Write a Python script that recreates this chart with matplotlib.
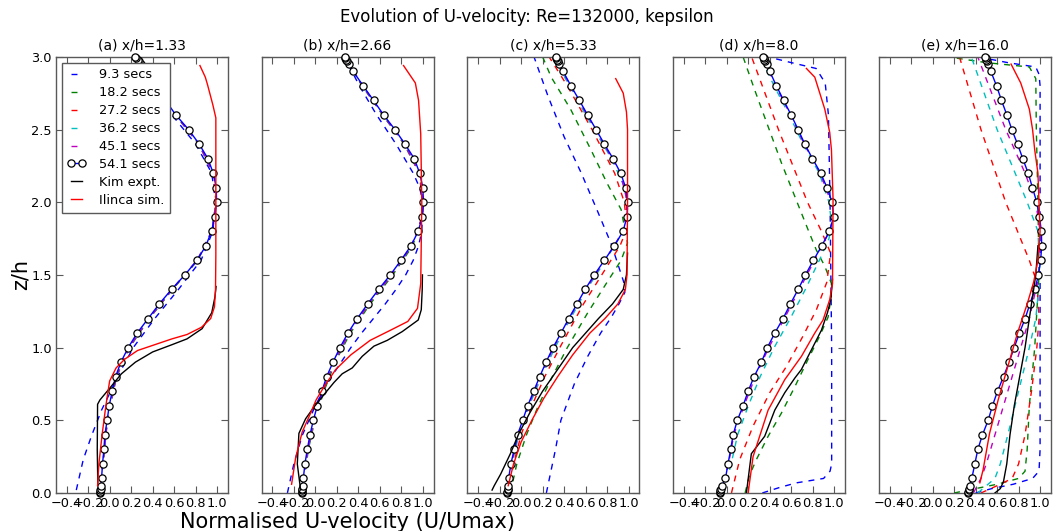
import matplotlib
matplotlib.use("Agg")
import matplotlib.pyplot as plt
from matplotlib.ticker import MultipleLocator

# ---------------- data ----------------
TITLE = "Evolution of U-velocity: Re=132000, kepsilon"
PANEL_TITLES = ["(a) x/h=1.33", "(b) x/h=2.66", "(c) x/h=5.33", "(d) x/h=8.0", "(e) x/h=16.0"]
TIME_LABELS = ["9.3 secs", "18.2 secs", "27.2 secs", "36.2 secs", "45.1 secs", "54.1 secs"]
KIM_LABEL = "Kim expt."
ILINCA_LABEL = "Ilinca sim."

# z levels of the final (54.1 s) profile (markers)
Z54 = [0.0, 0.01, 0.02, 0.03, 0.05, 0.1, 0.2, 0.3, 0.4, 0.5, 0.6, 0.7, 0.8, 0.9,
       1.0, 1.1, 1.2, 1.3, 1.4, 1.5, 1.6, 1.7, 1.8, 1.9, 2.0, 2.1, 2.2, 2.3, 2.4,
       2.5, 2.6, 2.7, 2.8, 2.9, 2.95, 2.97, 2.98, 2.99, 3.0]

A_U54 = [-0.09, -0.088, -0.086, -0.084, -0.08, -0.075, -0.066, -0.053, -0.044, -0.023,
         -0.004, 0.024, 0.055, 0.105, 0.173, 0.256, 0.359, 0.461, 0.576, 0.700, 0.812,
         0.895, 0.948, 0.979, 0.995, 0.992, 0.964, 0.914, 0.833, 0.734, 0.616, 0.52,
         0.42, 0.33, 0.29, 0.27, 0.26, 0.25, 0.24]
B_U54 = [-0.125, -0.124, -0.122, -0.12, -0.118, -0.112, -0.097, -0.075, -0.05, -0.019,
         0.018, 0.061, 0.105, 0.164, 0.229, 0.303, 0.39, 0.486, 0.588, 0.697, 0.796,
         0.889, 0.957, 0.994, 1.005, 1.0, 0.97, 0.92, 0.833, 0.74, 0.635, 0.541, 0.445,
         0.352, 0.31, 0.295, 0.287, 0.28, 0.272]
C_U54 = [-0.13, -0.128, -0.126, -0.124, -0.121, -0.116, -0.095, -0.064, -0.033, 0.015,
         0.061, 0.117, 0.173, 0.232, 0.297, 0.371, 0.443, 0.52, 0.595, 0.681, 0.774,
         0.867, 0.948, 0.985, 0.991, 0.973, 0.926, 0.855, 0.774, 0.697, 0.619, 0.542,
         0.464, 0.39, 0.355, 0.34, 0.333, 0.326, 0.32]
D_U54 = [-0.068, -0.064, -0.06, -0.055, -0.045, -0.013, 0.011, 0.036, 0.058, 0.098,
         0.151, 0.198, 0.253, 0.322, 0.377, 0.446, 0.523, 0.591, 0.663, 0.731, 0.805,
         0.883, 0.954, 0.994, 0.979, 0.932, 0.873, 0.796, 0.725, 0.663, 0.598, 0.529,
         0.461, 0.399, 0.37, 0.355, 0.348, 0.342, 0.335]
E_U54 = [0.325, 0.33, 0.335, 0.34, 0.347, 0.365, 0.393, 0.421, 0.464, 0.517, 0.557,
         0.604, 0.66, 0.712, 0.759, 0.808, 0.861, 0.905, 0.951, 0.985, 1.005, 1.015,
         1.012, 0.994, 0.969, 0.929, 0.889, 0.839, 0.79, 0.737, 0.691, 0.641, 0.595,
         0.542, 0.515, 0.505, 0.5, 0.495, 0.49]

# earlier times: (z, u) pairs
A_T09 = [(0.02, -0.31), (0.23, -0.245), (0.39, -0.17), (0.57, -0.075), (0.73, 0.03),
         (0.85, 0.11), (1.0, 0.22), (1.2, 0.42), (1.4, 0.64), (1.6, 0.85), (1.8, 0.96),
         (2.0, 0.985), (2.2, 0.95), (2.4, 0.80), (2.5, 0.69), (2.6, 0.58), (2.8, 0.40),
         (3.0, 0.22)]
A_T18 = [(0.0, -0.09), (0.5, -0.02), (0.8, 0.065), (1.0, 0.185), (1.2, 0.37), (1.4, 0.585),
         (1.6, 0.82), (1.8, 0.95), (2.0, 0.99), (2.2, 0.96), (2.4, 0.83), (2.6, 0.61),
         (2.8, 0.415), (3.0, 0.235)]
A_T27 = [(0.0, -0.09), (0.5, -0.022), (0.8, 0.06), (1.0, 0.18), (1.2, 0.365), (1.4, 0.58),
         (1.6, 0.815), (1.8, 0.95), (2.0, 0.993), (2.2, 0.962), (2.4, 0.832), (2.6, 0.614),
         (2.8, 0.418), (3.0, 0.238)]
A_T36 = A_T27
A_T45 = A_T27

B_T09 = [(0.0, -0.26), (0.2, -0.2), (0.4, -0.12), (0.6, 0.0), (0.7, 0.07), (0.8, 0.15),
         (0.9, 0.24), (1.0, 0.33), (1.1, 0.43), (1.2, 0.54), (1.3, 0.65), (1.4, 0.75),
         (1.5, 0.84), (1.6, 0.91), (1.7, 0.96), (1.8, 0.99), (2.0, 1.0), (2.1, 0.97),
         (2.2, 0.91), (2.3, 0.83), (2.4, 0.75), (2.5, 0.66), (2.6, 0.57), (2.7, 0.49),
         (2.8, 0.41), (2.9, 0.34), (3.0, 0.27)]
B_T18 = [(0.0, -0.12), (0.3, -0.065), (0.5, -0.005), (0.7, 0.08), (0.9, 0.185), (1.1, 0.325),
         (1.3, 0.51), (1.5, 0.72), (1.7, 0.905), (1.9, 0.995), (2.0, 1.0), (2.2, 0.965),
         (2.4, 0.825), (2.6, 0.625), (2.8, 0.435), (3.0, 0.265)]
B_T27 = [(0.0, -0.122), (0.3, -0.07), (0.5, -0.012), (0.7, 0.07), (0.9, 0.174), (1.1, 0.313),
         (1.3, 0.496), (1.5, 0.707), (1.7, 0.895), (1.9, 0.995), (2.0, 1.003), (2.2, 0.968),
         (2.4, 0.83), (2.6, 0.63), (2.8, 0.44), (3.0, 0.27)]
B_T36 = B_T27
B_T45 = B_T27

C_T09 = [(0.0, 0.235), (0.3, 0.32), (0.5, 0.37), (0.75, 0.495), (0.94, 0.62), (1.1, 0.74),
         (1.21, 0.84), (1.3, 0.91), (1.38, 0.965), (1.45, 0.955), (1.71, 0.84), (1.94, 0.71),
         (2.2, 0.56), (2.45, 0.40), (2.73, 0.25), (3.0, 0.12)]
C_T18 = [(0.0, -0.1), (0.2, -0.04), (0.4, 0.05), (0.6, 0.16), (0.8, 0.29), (1.0, 0.43),
         (1.24, 0.62), (1.45, 0.8), (1.6, 0.93), (1.72, 0.99), (1.95, 0.93), (2.13, 0.8),
         (2.36, 0.65), (2.64, 0.46), (2.86, 0.28), (3.0, 0.2)]
C_T27 = [(0.0, -0.115), (0.2, -0.07), (0.4, 0.0), (0.6, 0.1), (0.8, 0.22), (1.0, 0.36),
         (1.3, 0.58), (1.5, 0.75), (1.7, 0.92), (1.82, 0.985), (2.0, 0.96), (2.2, 0.87),
         (2.5, 0.66), (2.8, 0.43), (3.0, 0.26)]
C_T36 = [(0.0, -0.125), (0.2, -0.085), (0.4, -0.02), (0.6, 0.075), (0.8, 0.19), (1.0, 0.315),
         (1.2, 0.46), (1.4, 0.61), (1.6, 0.785), (1.8, 0.95), (1.95, 0.99), (2.1, 0.965),
         (2.3, 0.84), (2.5, 0.68), (2.7, 0.525), (2.9, 0.375), (3.0, 0.305)]
C_T45 = [(0.0, -0.128), (0.2, -0.09), (0.4, -0.03), (0.6, 0.066), (0.8, 0.178), (1.0, 0.302),
         (1.2, 0.448), (1.4, 0.6), (1.6, 0.778), (1.8, 0.948), (2.0, 0.99), (2.2, 0.922),
         (2.4, 0.77), (2.6, 0.614), (2.8, 0.46), (3.0, 0.316)]

D_T09 = [(0.0, 0.33), (0.04, 0.5), (0.07, 0.65), (0.1, 0.9), (0.15, 0.96), (0.2, 0.975),
         (1.0, 0.975), (2.0, 0.96), (2.6, 0.945), (2.82, 0.915), (2.92, 0.83), (2.96, 0.6),
         (3.0, 0.38)]
D_T18 = [(0.0, 0.17), (0.12, 0.21), (0.23, 0.275), (0.39, 0.384), (0.55, 0.508),
         (0.73, 0.632), (0.92, 0.756), (1.08, 0.864), (1.21, 0.942), (1.35, 0.97),
         (1.44, 0.973), (1.56, 0.911), (1.67, 0.833), (1.81, 0.756), (2.04, 0.632),
         (2.27, 0.508), (2.52, 0.384), (2.77, 0.26), (3.0, 0.151)]
D_T27 = [(0.0, 0.043), (0.23, 0.12), (0.46, 0.244), (0.69, 0.399), (0.87, 0.554),
         (1.08, 0.709), (1.26, 0.833), (1.45, 0.93), (1.65, 0.965), (1.8, 0.88),
         (2.0, 0.75), (2.5, 0.48), (3.0, 0.23)]
D_T36 = [(0.0, -0.03), (0.2, 0.04), (0.4, 0.1), (0.6, 0.2), (0.8, 0.31), (1.0, 0.44),
         (1.2, 0.59), (1.4, 0.73), (1.6, 0.86), (1.75, 0.95), (1.85, 0.975), (2.0, 0.95),
         (2.2, 0.86), (2.4, 0.71), (2.6, 0.58), (2.8, 0.44), (3.0, 0.31)]
D_T45 = [(0.0, -0.06), (0.2, 0.015), (0.4, 0.065), (0.6, 0.16), (0.8, 0.265), (1.0, 0.39),
         (1.2, 0.535), (1.4, 0.675), (1.6, 0.815), (1.8, 0.955), (1.9, 0.99), (2.0, 0.97),
         (2.2, 0.868), (2.4, 0.72), (2.6, 0.592), (2.8, 0.456), (3.0, 0.33)]

E_T09 = [(0.0, 0.4), (0.03, 0.55), (0.06, 0.75), (0.1, 0.93), (0.15, 0.99), (0.3, 1.0),
         (2.8, 1.0), (2.88, 0.99), (2.93, 0.96), (2.96, 0.7), (3.0, 0.42)]
E_T18 = [(0.0, 0.2), (0.03, 0.4), (0.06, 0.6), (0.1, 0.8), (0.15, 0.86), (0.3, 0.88),
         (0.6, 0.9), (1.0, 0.95), (1.5, 0.99), (2.0, 0.98), (2.5, 0.965), (2.85, 0.96),
         (2.93, 0.9), (2.96, 0.5), (3.0, 0.14)]
E_T27 = [(0.0, 0.45), (0.05, 0.6), (0.1, 0.74), (0.2, 0.8), (0.4, 0.86), (0.7, 0.92),
         (1.0, 0.97), (1.2, 0.99), (1.45, 0.97), (1.6, 0.9), (2.0, 0.68), (2.5, 0.45),
         (3.0, 0.25)]
E_T36 = [(0.0, 0.42), (0.1, 0.58), (0.2, 0.63), (0.4, 0.7), (0.7, 0.8), (1.0, 0.9),
         (1.2, 0.96), (1.5, 1.0), (1.8, 0.98), (2.0, 0.88), (2.5, 0.6), (3.0, 0.36)]
E_T45 = [(0.0, 0.38), (0.1, 0.45), (0.2, 0.5), (0.4, 0.58), (0.7, 0.7), (1.0, 0.82),
         (1.2, 0.9), (1.5, 0.99), (1.8, 1.0), (2.0, 0.96), (2.2, 0.86), (2.5, 0.68),
         (3.0, 0.42)]

# Kim experiment and Ilinca simulation: (z, u) pairs
A_KIM = [(0.07, -0.11), (0.3, -0.115), (0.61, -0.112), (0.64, -0.09), (0.72, 0.0),
         (0.82, 0.11), (0.9, 0.24), (0.97, 0.40), (1.02, 0.58), (1.06, 0.72), (1.13, 0.86),
         (1.24, 0.95), (1.35, 0.98), (1.42, 0.99)]
A_ILI = [(0.05, -0.112), (0.2, -0.1), (0.4, -0.07), (0.6, -0.035), (0.77, 0.0), (0.86, 0.06),
         (0.92, 0.14), (0.98, 0.26), (1.01, 0.38), (1.06, 0.58), (1.09, 0.72), (1.14, 0.855),
         (1.2, 0.94), (1.28, 0.975), (1.4, 0.985), (1.64, 0.988), (2.58, 0.988),
         (2.67, 0.96), (2.81, 0.91), (2.86, 0.89), (2.94, 0.84)]
B_KIM = [(0.02, -0.137), (0.2, -0.168), (0.41, -0.153), (0.51, -0.091), (0.59, -0.014),
         (0.69, 0.095), (0.76, 0.173), (0.82, 0.25), (0.86, 0.343), (0.94, 0.436),
         (1.01, 0.545), (1.05, 0.669), (1.11, 0.808), (1.16, 0.901), (1.19, 0.957),
         (1.26, 0.985), (1.40, 0.994), (1.5, 0.996)]
B_ILI = [(0.06, -0.221), (0.24, -0.184), (0.42, -0.122), (0.54, -0.05), (0.64, 0.007),
         (0.73, 0.08), (0.85, 0.19), (0.95, 0.33), (1.05, 0.51), (1.12, 0.70), (1.18, 0.86),
         (1.27, 0.95), (1.44, 0.98), (2.0, 0.99), (2.47, 0.98), (2.70, 0.96), (2.82, 0.93),
         (2.94, 0.82)]
C_KIM = [(0.02, -0.27), (0.05, -0.25), (0.13, -0.19), (0.27, -0.10), (0.41, -0.02),
         (0.55, 0.08), (0.7, 0.2), (0.85, 0.34), (1.0, 0.48), (1.1, 0.6), (1.2, 0.72),
         (1.3, 0.85), (1.4, 0.95), (1.5, 0.98), (1.65, 0.99)]
C_ILI = [(0.05, -0.12), (0.2, -0.07), (0.35, 0.0), (0.5, 0.1), (0.65, 0.21), (0.8, 0.34),
         (0.95, 0.48), (1.1, 0.64), (1.2, 0.78), (1.3, 0.9), (1.4, 0.97), (1.5, 0.985),
         (2.0, 0.99), (2.5, 0.99), (2.62, 0.98), (2.75, 0.95), (2.85, 0.88)]
D_KIM = [(0.0, 0.182), (0.27, 0.228), (0.39, 0.352), (0.57, 0.446), (0.69, 0.539),
         (0.79, 0.632), (0.85, 0.694), (0.94, 0.756), (1.03, 0.818), (1.12, 0.88),
         (1.24, 0.936), (1.33, 0.967), (1.47, 0.983)]
D_ILI = [(0.0, 0.198), (0.25, 0.244), (0.57, 0.384), (0.78, 0.539), (0.94, 0.694),
         (1.1, 0.818), (1.19, 0.895), (1.33, 0.957), (1.44, 0.983), (2.02, 0.988),
         (2.36, 0.973), (2.48, 0.957), (2.64, 0.911), (2.86, 0.818), (2.92, 0.74)]
E_KIM = [(0.0, 0.58), (0.03, 0.63), (0.08, 0.66), (0.2, 0.69), (0.4, 0.72), (0.6, 0.76),
         (0.8, 0.81), (1.0, 0.86), (1.2, 0.9), (1.35, 0.93), (1.5, 0.96), (1.7, 0.98)]
E_ILI = [(0.07, 0.44), (0.16, 0.47), (0.41, 0.53), (0.64, 0.61), (0.87, 0.7), (1.1, 0.79),
         (1.3, 0.88), (1.45, 0.94), (1.6, 0.98), (1.8, 1.0), (2.0, 0.99), (2.2, 0.98),
         (2.36, 0.95), (2.5, 0.93), (2.64, 0.9), (2.82, 0.82), (2.95, 0.73)]

PANELS = [
    (A_U54, [A_T09, A_T18, A_T27, A_T36, A_T45], A_KIM, A_ILI),
    (B_U54, [B_T09, B_T18, B_T27, B_T36, B_T45], B_KIM, B_ILI),
    (C_U54, [C_T09, C_T18, C_T27, C_T36, C_T45], C_KIM, C_ILI),
    (D_U54, [D_T09, D_T18, D_T27, D_T36, D_T45], D_KIM, D_ILI),
    (E_U54, [E_T09, E_T18, E_T27, E_T36, E_T45], E_KIM, E_ILI),
]
DASH_COLORS = ["b", "g", "r", "c", "m"]

# ---------------- figure ----------------
plt.rcParams["font.family"] = ["DejaVu Sans"]
plt.rcParams["xtick.direction"] = "in"
plt.rcParams["ytick.direction"] = "in"
plt.rcParams["xtick.top"] = True
plt.rcParams["ytick.right"] = True
plt.rcParams["axes.unicode_minus"] = True

SPINE = "0.35"

fig, axes = plt.subplots(1, 5, figsize=(10.54, 5.31), dpi=100, sharey=True)
fig.subplots_adjust(left=0.053, right=0.997, top=0.893, bottom=0.0716, wspace=0.196)


def unzip(pairs):
    return [p[0] for p in pairs], [p[1] for p in pairs]


for i, (ax, (u54, dashed, kim, ili)) in enumerate(zip(axes, PANELS)):
    for lab, col, ser in zip(TIME_LABELS[:5], DASH_COLORS, dashed):
        z, u = unzip(ser)
        ax.plot(u, z, color=col, linestyle=(0, (4.3, 4.3)), linewidth=1.0, label=lab)
    ax.plot(u54, Z54, color="b", linestyle="-", linewidth=1.0, marker="o",
            markersize=5.2, markerfacecolor="white", markeredgecolor="black",
            markeredgewidth=0.9, label=TIME_LABELS[5], clip_on=False, zorder=3)
    z, u = unzip(kim)
    ax.plot(u, z, color="k", linewidth=1.0, label=KIM_LABEL, zorder=4)
    z, u = unzip(ili)
    ax.plot(u, z, color="r", linewidth=1.0, label=ILINCA_LABEL, zorder=4)

    ax.set_xlim(-0.5, 1.1)
    ax.set_ylim(0.0, 3.0)
    ax.xaxis.set_major_locator(MultipleLocator(0.2))
    ax.yaxis.set_major_locator(MultipleLocator(0.5))
    ax.set_title(PANEL_TITLES[i], fontsize=10, pad=5)
    ax.tick_params(which="major", length=5, width=0.8, color=SPINE, labelsize=9.3, pad=3)
    for sp in ax.spines.values():
        sp.set_color(SPINE)
        sp.set_linewidth(1.0)

axes[0].set_ylabel("z/h", fontsize=15, labelpad=0)
axes[1].set_xlabel("Normalised U-velocity (U/Umax)", fontsize=15, labelpad=1)
leg = axes[0].legend(loc="upper left", fontsize=9.3, numpoints=2, handlelength=1.45,
                     handletextpad=1.0, borderpad=0.45, labelspacing=0.38,
                     fancybox=False, framealpha=1.0, borderaxespad=0.45)
leg.get_frame().set_edgecolor(SPINE)
leg.get_frame().set_linewidth(1.0)
fig.suptitle(TITLE, fontsize=12, y=0.985)

fig.savefig("out.png", dpi=100, facecolor="white")
